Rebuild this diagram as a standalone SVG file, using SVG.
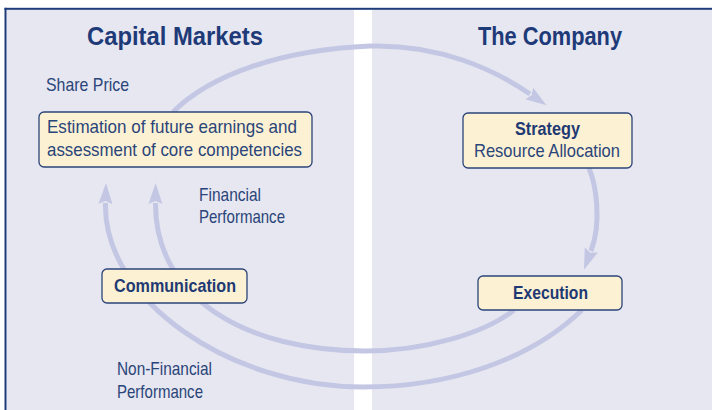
<svg xmlns="http://www.w3.org/2000/svg" width="712" height="410" viewBox="0 0 712 410">
  <style>
    .panel { fill: #e7e7f1; }
    .frame { fill: #1f3c7a; }
    .box { fill: #fdf1d4; stroke: #2b4479; stroke-width: 1.3; }
    .flow { fill: none; stroke: #c4c7e4; stroke-width: 5; marker-end: url(#head); }
    .title { font-family: "Liberation Sans Narrow", "Liberation Sans", Arial, sans-serif; font-weight: bold; font-size: 26.5px; fill: #1e3a78; }
    .txt { font-family: "Liberation Sans Narrow", "Liberation Sans", Arial, sans-serif; font-size: 19px; fill: #2a4579; }
    .bold { font-family: "Liberation Sans Narrow", "Liberation Sans", Arial, sans-serif; font-weight: bold; font-size: 19px; fill: #1f3a73; }
  </style>
  <defs>
    <marker id="head" markerUnits="userSpaceOnUse" markerWidth="24" markerHeight="18" viewBox="0 -9 24 18" refX="1" refY="0" orient="auto">
      <path d="M0,-7 L21,0 L0,7 L3,0 Z" fill="#c4c7e4"/>
    </marker>
  </defs>

  <rect width="712" height="410" fill="#ffffff"/>

  <!-- two halves -->
  <rect class="panel" x="6.5" y="9.5" width="347.5" height="400.5"/>
  <rect class="panel" x="372" y="9.5" width="340" height="400.5"/>
  <rect class="frame" x="4.5" y="7.8" width="707.5" height="2"/>
  <rect class="frame" x="4.5" y="7.8" width="2" height="402.2"/>

  <!-- headings -->
  <g id="heading-capital-markets">
    <text class="title" x="87" y="45" textLength="176" lengthAdjust="spacingAndGlyphs">Capital Markets</text>
  </g>
  <g id="heading-company">
    <text class="title" x="478" y="45" textLength="144" lengthAdjust="spacingAndGlyphs">The Company</text>
  </g>

  <!-- connectors -->
  <g id="connectors">
    <path class="flow" d="M173,112 C210,75 280,50 370,46 C440,44 495,70 530,94"/>
    <path class="flow" d="M589,168 C596,185 602,222 591,251"/>
    <path class="flow" d="M514,310 C485,333 425,351 365,351 C249,351 155,300 155.5,203"/>
    <path class="flow" d="M582,310 C530,360 450,387 363,387 C230,387 103,300 105.5,203"/>
    <text class="txt" x="46" y="91" textLength="83" lengthAdjust="spacingAndGlyphs">Share Price</text>
    <text class="txt" x="199" y="200.5" textLength="62" lengthAdjust="spacingAndGlyphs">Financial</text>
    <text class="txt" x="199" y="223.3" textLength="86" lengthAdjust="spacingAndGlyphs">Performance</text>
    <text class="txt" x="117" y="375" textLength="95" lengthAdjust="spacingAndGlyphs">Non-Financial</text>
    <text class="txt" x="117" y="398" textLength="86" lengthAdjust="spacingAndGlyphs">Performance</text>
  </g>

  <!-- nodes -->
  <g id="node-estimation">
    <rect class="box" x="39" y="112" width="273" height="55" rx="5"/>
    <text class="txt" x="47" y="133" textLength="250" lengthAdjust="spacingAndGlyphs">Estimation of future earnings and</text>
    <text class="txt" x="47" y="156" textLength="255" lengthAdjust="spacingAndGlyphs">assessment of core competencies</text>
  </g>
  <g id="node-strategy">
    <rect class="box" x="463" y="113" width="169" height="55" rx="5"/>
    <text class="bold" x="515" y="135" textLength="65" lengthAdjust="spacingAndGlyphs">Strategy</text>
    <text class="txt" x="474" y="157" textLength="146" lengthAdjust="spacingAndGlyphs">Resource Allocation</text>
  </g>
  <g id="node-execution">
    <rect class="box" x="478" y="276" width="144" height="34" rx="5"/>
    <text class="bold" x="513" y="299" textLength="75" lengthAdjust="spacingAndGlyphs">Execution</text>
  </g>
  <g id="node-communication">
    <rect class="box" x="102" y="269" width="145" height="34" rx="5"/>
    <text class="bold" x="114" y="292" textLength="122" lengthAdjust="spacingAndGlyphs">Communication</text>
  </g>
</svg>
